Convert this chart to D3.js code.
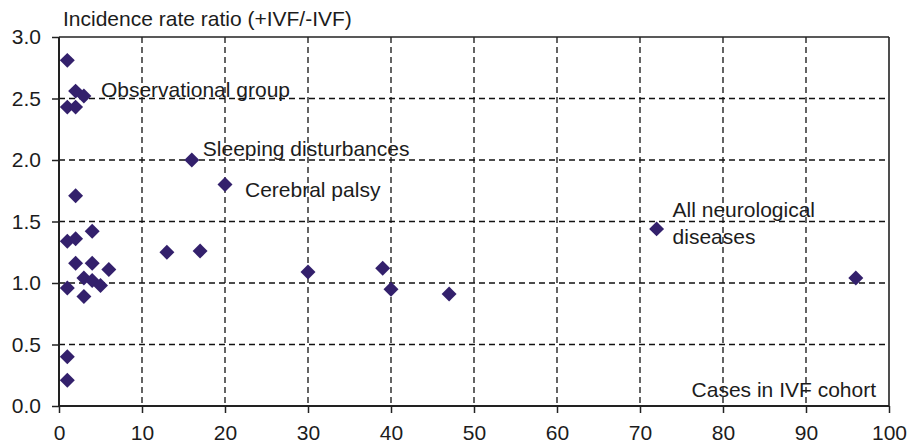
<!DOCTYPE html>
<html>
<head>
<meta charset="utf-8">
<script src="https://cdn.jsdelivr.net/npm/d3@7/dist/d3.min.js"></script>
<style>
  html, body { margin: 0; padding: 0; background: #fff; }
  svg { display: block; font-family: "Liberation Sans", Arial, sans-serif; }
</style>
</head>
<body>
<svg id="chart" width="908" height="444"></svg>
<script>
// ---- data ----
const casesIVF = [1, 2, 3, 1, 2, 16, 20, 2, 1, 2, 4, 2, 4, 6, 3, 4, 5, 1, 3, 1, 1, 13, 17, 30, 39, 40, 47, 72, 96];
const rateRatio = [2.81, 2.56, 2.52, 2.43, 2.43, 2.0, 1.8, 1.71, 1.34, 1.36, 1.42, 1.16, 1.16, 1.11, 1.04, 1.02, 0.98, 0.96, 0.89, 0.40, 0.21, 1.25, 1.26, 1.09, 1.12, 0.95, 0.91, 1.44, 1.04];
const xTicks = [0, 10, 20, 30, 40, 50, 60, 70, 80, 90, 100];
const yTicks = [0.0, 0.5, 1.0, 1.5, 2.0, 2.5, 3.0];
const annotations = [
  { lines: ["Observational group"], x: 3, y: 2.52 },
  { lines: ["Sleeping disturbances"], x: 16, y: 2.0 },
  { lines: ["Cerebral palsy"], x: 20, y: 1.8 },
  { lines: ["All neurological", "diseases"], x: 72, y: 1.44 }
];
const yTitle = "Incidence rate ratio (+IVF/-IVF)";
const xTitle = "Cases in IVF cohort";

// ---- layout ----
const pLeft = 59, pRight = 889, pTop = 37, pBottom = 406;
const svg = d3.select("#chart");
const x = d3.scaleLinear().domain([0, 100]).range([pLeft, pRight]);
const y = d3.scaleLinear().domain([0, 3]).range([pBottom, pTop]);
const textColor = "#1c1c1c";
const fontSize = 21;

// gridlines
const grid = svg.append("g");
grid.selectAll("line.h").data(yTicks.filter(v => v > 0 && v < 3)).join("line")
  .attr("class", "h")
  .attr("x1", pLeft).attr("x2", pRight)
  .attr("y1", d => y(d)).attr("y2", d => y(d))
  .attr("stroke", "#111").attr("stroke-width", 1.3).attr("stroke-dasharray", "6,4");
grid.selectAll("line.v").data(xTicks.filter(v => v > 0 && v < 100)).join("line")
  .attr("class", "v")
  .attr("y1", pTop).attr("y2", pBottom)
  .attr("x1", d => x(d)).attr("x2", d => x(d))
  .attr("stroke", "#111").attr("stroke-width", 1.3).attr("stroke-dasharray", "6,4");

// top & right border
svg.append("line").attr("x1", pLeft).attr("x2", pRight).attr("y1", pTop).attr("y2", pTop)
  .attr("stroke", "#222").attr("stroke-width", 1.6);
svg.append("line").attr("x1", pRight).attr("x2", pRight).attr("y1", pTop).attr("y2", pBottom)
  .attr("stroke", "#222").attr("stroke-width", 1.6);

// axes
const yAxis = svg.append("g").attr("transform", `translate(${pLeft},0)`)
  .call(d3.axisLeft(y).tickValues(yTicks).tickFormat(d3.format(".1f")).tickSize(7).tickPadding(11));
const xAxis = svg.append("g").attr("transform", `translate(0,${pBottom})`)
  .call(d3.axisBottom(x).tickValues(xTicks).tickFormat(d3.format("d")).tickSize(7).tickPadding(12));
[yAxis, xAxis].forEach(g => {
  g.select(".domain").attr("stroke", "#222").attr("stroke-width", 2);
  g.selectAll(".tick line").attr("stroke", "#222").attr("stroke-width", 1.5);
  g.selectAll(".tick text").attr("fill", textColor).style("font-size", fontSize + "px")
    .style("font-family", "'Liberation Sans', Arial, sans-serif");
});
yAxis.select(".domain").attr("d", `M0,${pBottom}V${pTop}`);
xAxis.select(".domain").attr("d", `M${pLeft},0H${pRight}`);
xAxis.selectAll(".tick text").attr("dy", "0.71em");

// points (diamonds)
const diamond = d3.symbol().type(d3.symbolSquare).size(112);
svg.append("g").selectAll("path").data(casesIVF.map((c, i) => [c, rateRatio[i]])).join("path")
  .attr("d", diamond)
  .attr("transform", d => `translate(${x(d[0])},${y(d[1])}) rotate(45)`)
  .attr("fill", "#33206c");

// annotations
const offsets = [[17, 1], [11, -4], [20, 12], [16, -12]];
annotations.forEach((a, i) => {
  const t = svg.append("text")
    .attr("x", x(a.x) + offsets[i][0]).attr("y", y(a.y) + offsets[i][1])
    .attr("fill", textColor).style("font-size", fontSize + "px");
  a.lines.forEach((ln, j) => {
    t.append("tspan").attr("x", x(a.x) + offsets[i][0]).attr("dy", j === 0 ? 0 : 26.7).text(ln);
  });
});

// axis titles
svg.append("text").attr("x", 63).attr("y", 26).attr("fill", textColor)
  .style("font-size", fontSize + "px").text(yTitle);
svg.append("text").attr("x", 876).attr("y", 397).attr("text-anchor", "end").attr("fill", textColor)
  .style("font-size", fontSize + "px").text(xTitle);
</script>
</body>
</html>
